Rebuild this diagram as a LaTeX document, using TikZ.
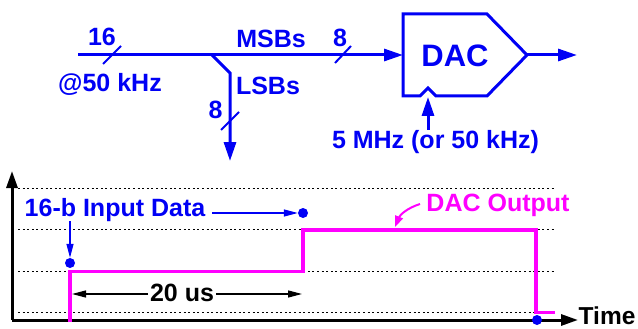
\documentclass[tikz,border=0pt]{standalone}
\usepackage{fontspec}
\setmainfont{Liberation Sans}
\usetikzlibrary{arrows.meta}
\definecolor{dblue}{RGB}{0,0,245}
\definecolor{mag}{RGB}{255,0,255}
\tikzset{
  lbl/.style={font=\fontsize{25}{25}\selectfont\bfseries, inner sep=0pt, anchor=base},
  bus/.style={dblue, line width=3pt},
  bigarrow/.style={-{Triangle[length=19pt,width=12pt]}},
  thinarrow/.style={line width=1.3pt,-{Triangle[length=14pt,width=7pt]}},
  slash/.style={dblue, line width=2pt},
  grid/.style={black, line width=1.3pt, dash pattern=on 2pt off 2.6pt},
  axis/.style={black, line width=3pt,-{Triangle[length=17pt,width=11pt]}},
  sig/.style={mag, line width=3.5pt},
  dot/.style={circle, fill=dblue, inner sep=0pt, minimum size=10pt},
}
\begin{document}
\begin{tikzpicture}[x=1pt,y=-1pt]
\useasboundingbox (0,0) rectangle (638,329);
% ---------- top: DAC block ----------
\coordinate (busS) at (78,55);
\coordinate (br) at (212,55);
\coordinate (brk) at (230,73);
\coordinate (lsbE) at (230,161);
\coordinate (dTL) at (403,14);
\coordinate (dTR) at (487,14);
\coordinate (dTip) at (527,55);
\coordinate (dBR) at (487,96);
\coordinate (dBL) at (403,96);
\coordinate (dIn) at (403,55);
\coordinate (outE) at (577,55);
\coordinate (nL) at (420,96);
\coordinate (nP) at (428,88);
\coordinate (nR) at (436,96);
\coordinate (clkS) at (428,130);
\coordinate (clkE) at (428,97);

\draw[bus, line join=miter] (dTL) -- (dTR) -- (dTip) -- (dBR) -- (nR) -- (nP) -- (nL) -- (dBL) -- cycle;
\node[lbl, dblue, font=\fontsize{31}{31}\selectfont\bfseries] (dac) at (455,66.5) {DAC};

\draw[bus, bigarrow] (busS) -- (dIn);
\draw[bus, bigarrow, line join=miter] (br) -- (brk) -- (lsbE);
\draw[bus, bigarrow] (dTip) -- (outE);
\draw[bus, bigarrow] (clkS) -- (clkE);

% slashes
\coordinate (s1a) at (103,64); \coordinate (s1b) at (121,46);
\coordinate (s2a) at (335,63); \coordinate (s2b) at (351,46);
\coordinate (s3a) at (221,130); \coordinate (s3b) at (239,112);
\draw[slash] (s1a) -- (s1b);
\draw[slash] (s2a) -- (s2b);
\draw[slash] (s3a) -- (s3b);

\node[lbl, dblue] (n16) at (102,46) {16};
\node[lbl, dblue] (rate) at (110,92) {@50 kHz};
\node[lbl, dblue] (msb) at (271,48) {MSBs};
\node[lbl, dblue] (lsb) at (268,95) {LSBs};
\node[lbl, dblue] (n8a) at (215.5,119) {8};
\node[lbl, dblue] (n8b) at (340,46.5) {8};
\node[lbl, dblue] (clk) at (435.5,148) {5 MHz (or 50 kHz)};

% ---------- bottom: timing ----------
\coordinate (org) at (12,320);
\coordinate (yTop) at (12,171);
\coordinate (xEnd) at (578,320);
\foreach \yy/\nm in {188.5/g1, 229.5/g2, 271.5/g3, 312.5/g4}{
  \coordinate (\nm a) at (18,\yy);
  \coordinate (\nm b) at (554,\yy);
  \draw[grid] (\nm a) -- (\nm b);
}
\draw[axis] (org) -- (yTop);
\draw[axis] (org) -- (xEnd);
\node[lbl, anchor=base west, font=\fontsize{24.5}{24.5}\selectfont\bfseries] (time) at (578.5,324.5) {Time};

\coordinate (s0) at (70,322);
\coordinate (s1) at (70,271.5);
\coordinate (s2) at (303,271.5);
\coordinate (s3) at (303,230);
\coordinate (s4) at (536,230);
\coordinate (s5) at (536,312.5);
\coordinate (s6) at (555,312.5);
\draw[sig, line join=miter] (s0) -- (s1) -- (s2) -- (s3) -- (s4) -- (s5) -- (s6);

\node[dot] (d1) at (70,263) {};
\node[dot] (d2) at (303,213) {};
\node[dot] (d3) at (537,320) {};

\node[lbl, dblue] (inp) at (115,216.5) {16-b Input Data};
\coordinate (ia) at (70,221);
\draw[dblue, thinarrow] (ia) -- (d1);
\coordinate (ib) at (212,213);
\draw[dblue, thinarrow] (ib) -- (d2);

\node[lbl] (us) at (182,301.5) {20 us};
\coordinate (ul) at (72,294);
\coordinate (ur) at (302,294);
\coordinate (ul0) at (148,294);
\coordinate (ur0) at (216,294);
\draw[thinarrow] (ul0) -- (ul);
\draw[thinarrow] (ur0) -- (ur);

\node[lbl, mag] (dout) at (498,211.5) {DAC Output};
\coordinate (oa) at (420,204);
\coordinate (ob) at (395,227);
\draw[mag, line width=2pt, -{Triangle[length=11pt,width=8pt]}] (oa) to[bend right=25] (ob);
\end{tikzpicture}
\end{document}
